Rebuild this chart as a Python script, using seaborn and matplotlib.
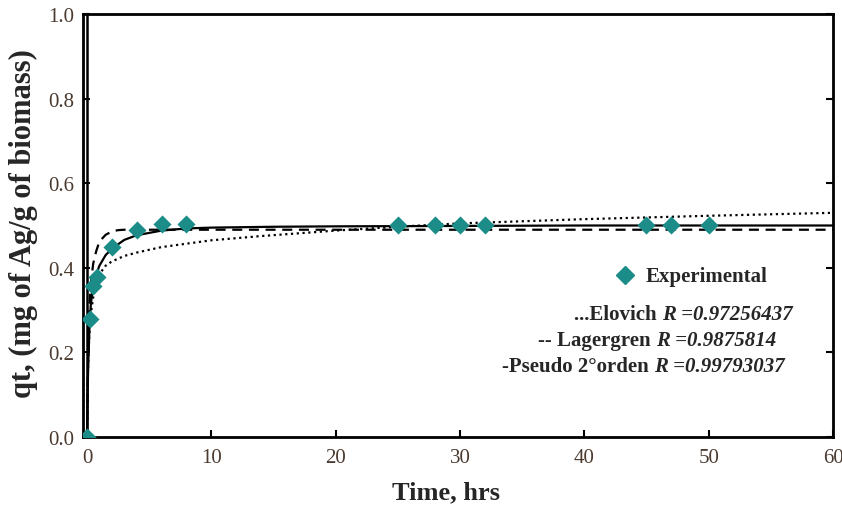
import matplotlib
matplotlib.use("Agg")
import matplotlib.pyplot as plt
import seaborn as sns

# Experimental data
t_exp = [0, 0.25, 0.5, 0.8, 2, 4, 6, 8, 25, 28, 30, 32, 45, 47, 50]
q_exp = [0.0, 0.279, 0.358, 0.378, 0.448, 0.490, 0.503, 0.503, 0.501, 0.501, 0.501, 0.501, 0.501, 0.501, 0.501]

# Pseudo 2nd order (solid)
t_pso = [0, 0.05, 0.1, 0.2, 0.3, 0.5, 0.75, 1, 1.5, 2, 3, 4, 6, 8, 10, 15, 20, 30, 40, 50, 60]
q_pso = [0, 0.10, 0.17, 0.26, 0.31, 0.36, 0.385, 0.405, 0.43, 0.445, 0.466, 0.477, 0.488, 0.493,
         0.495, 0.497, 0.498, 0.499, 0.500, 0.500, 0.500]

# Lagergren (dashed)
t_lag = [0, 0.05, 0.1, 0.2, 0.3, 0.5, 0.75, 1, 1.5, 2, 2.5, 3, 4, 6, 10, 20, 40, 60]
q_lag = [0, 0.12, 0.20, 0.31, 0.36, 0.41, 0.44, 0.462, 0.478, 0.486, 0.489, 0.49, 0.49, 0.49,
         0.49, 0.49, 0.49, 0.49]

# Elovich (dotted)
t_elo = [0, 0.05, 0.1, 0.2, 0.3, 0.5, 0.75, 1, 1.5, 2, 3, 4, 6, 8, 10, 14, 20, 25, 30, 40, 50, 60]
q_elo = [0, 0.12, 0.18, 0.25, 0.29, 0.33, 0.36, 0.385, 0.405, 0.415, 0.428, 0.436, 0.449, 0.457,
         0.465, 0.475, 0.488, 0.497, 0.505, 0.515, 0.523, 0.530]

# vertical segment at t = 0
t_v = [0, 0]
q_v = [0, 1.0]

x_ticks = [0, 10, 20, 30, 40, 50, 60]
y_ticks = [0.0, 0.2, 0.4, 0.6, 0.8, 1.0]

legend_main = "Experimental"
legend_rows = [("...Elovich ", "R =0.97256437"),
               ("-- Lagergren ", "R =0.9875814"),
               ("-Pseudo 2°orden ", "R =0.99793037")]

sns.set_theme(style="white")
plt.rcParams["font.family"] = ["Liberation Serif", "DejaVu Serif"]

W, H = 842, 510
fig = plt.figure(figsize=(W / 100, H / 100), dpi=100)
ax = fig.add_axes([83 / W, 1 - 438 / H, (833 - 83) / W, (438 - 15) / H])

teal = "#1b8c87"
sns.lineplot(x=t_elo, y=q_elo, ax=ax, color="black", lw=1.6, linestyle=(0, (1, 1.6)), sort=False)
sns.lineplot(x=t_lag, y=q_lag, ax=ax, color="black", lw=1.6, linestyle=(0, (4.5, 3)), sort=False)
sns.lineplot(x=t_pso, y=q_pso, ax=ax, color="black", lw=1.6, sort=False)
ax.plot(t_v, q_v, color="black", lw=1.8)
sns.scatterplot(x=t_exp, y=q_exp, ax=ax, marker="D", s=85, color=teal, edgecolor=teal,
                linewidth=0, zorder=5)

ax.set_xlim(-0.32, 60)
ax.set_ylim(0, 1.0)
ax.set_xticks(x_ticks)
ax.set_yticks(y_ticks)
ax.set_xticklabels([str(v) for v in x_ticks])
ax.set_yticklabels([f"{v:.1f}" for v in y_ticks])
ax.tick_params(axis="both", direction="in", length=5, width=1.5, colors="black",
               labelsize=15, labelcolor="#4a3a30", right=True, left=True, bottom=True)
ax.tick_params(axis="x", pad=8)
ax.tick_params(axis="y", pad=6)
for s in ax.spines.values():
    s.set_color("black")
    s.set_linewidth(2)

ax.set_xlabel("Time, hrs", fontsize=19, fontweight="bold")
ax.xaxis.set_label_coords((446 - 83) / (833 - 83), -(481 - 438) / (438 - 15), transform=ax.transAxes)
ax.set_ylabel("qt, (mg of Ag/g of biomass)", fontsize=22, fontweight="bold")
ax.yaxis.set_label_coords(-(83 - 38) / (833 - 83), (438 - 224) / (438 - 15), transform=ax.transAxes)


def px(x, y):
    return x / W, 1 - y / H


mx, my = px(625, 276)
fig.add_artist(plt.Line2D([mx], [my], marker="D", markersize=9, color=teal, lw=0))
fig.text(*px(646, 277), legend_main, fontsize=15, fontweight="bold", va="center", ha="left")

ys = [315, 341, 367]
xr = [662, 656, 654]
for (a, b), y, x in zip(legend_rows, ys, xr):
    fig.text(*px(x, y), a, fontsize=15, fontweight="bold", va="center", ha="right")
    fig.text(*px(x, y), b, fontsize=15, fontweight="bold", style="italic", va="center", ha="left")

fig.savefig("out.png", dpi=100)
